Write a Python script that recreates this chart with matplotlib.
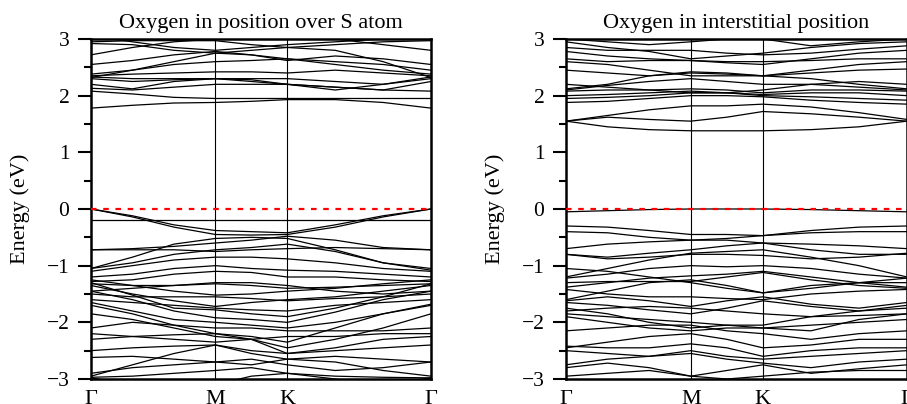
import numpy as np
import matplotlib.pyplot as plt
from matplotlib.ticker import MultipleLocator

plt.rcParams['font.family'] = ['Liberation Serif', 'DejaVu Serif']

#-------------------------------------------------
# k-path: G, 1/3 GM, 2/3 GM, M, 1/2 MK, K, 1/3 KG, 2/3 KG, G
#-------------------------------------------------
k_nodes = [0.0, 1/3, 2/3, 1.0, 1.2887, 1.5774, 1.9623, 2.3472, 2.7321]
k_ticks = [0.0, 1.0, 1.5774, 2.7321]
k_labels = ['Γ', 'M', 'K', 'Γ']

titles = ['Oxygen in position over S atom', 'Oxygen in interstitial position']

#-------------------------------------------------
# bands, left panel (O over S atom)
#-------------------------------------------------
bands_s = [
    [1.78, 1.83, 1.87, 1.88, 1.90, 1.93, 1.93, 1.88, 1.78],
    [2.08, 2.03, 1.97, 1.95, 1.95, 1.95, 1.95, 1.95, 1.95],
    [2.13, 2.10, 2.15, 2.20, 2.20, 2.20, 2.15, 2.10, 2.08],
    [2.20, 2.12, 2.25, 2.30, 2.25, 2.20, 2.15, 2.10, 2.25],
    [2.33, 2.30, 2.30, 2.30, 2.28, 2.20, 2.10, 2.20, 2.33],
    [2.35, 2.38, 2.40, 2.42, 2.42, 2.40, 2.45, 2.40, 2.35],
    [2.38, 2.45, 2.55, 2.60, 2.62, 2.65, 2.55, 2.45, 2.38],
    [2.55, 2.62, 2.72, 2.78, 2.72, 2.62, 2.70, 2.65, 2.55],
    [2.92, 2.90, 2.80, 2.75, 2.72, 2.65, 2.60, 2.55, 2.45],
    [2.95, 2.97, 2.97, 2.97, 2.90, 2.85, 2.90, 2.95, 2.97],
    [2.32, 2.45, 2.60, 2.75, 2.80, 2.85, 2.80, 2.60, 2.32],
    [2.30, 2.25, 2.28, 2.30, 2.30, 2.30, 2.25, 2.20, 2.30],
    [3.05, 2.95, 2.85, 2.80, 2.85, 2.90, 2.95, 3.00, 3.05],
    [2.72, 2.85, 2.95, 3.00, 3.05, 3.10, 3.00, 2.90, 2.80],
    [0.00, -0.12, -0.28, -0.38, -0.40, -0.42, -0.28, -0.12, 0.00],
    [0.00, -0.14, -0.32, -0.45, -0.46, -0.45, -0.32, -0.14, 0.00],
    [-0.19, -0.19, -0.19, -0.19, -0.19, -0.19, -0.19, -0.19, -0.19],
    [-0.72, -0.70, -0.66, -0.60, -0.55, -0.48, -0.55, -0.68, -0.72],
    [-0.72, -0.72, -0.72, -0.75, -0.72, -0.70, -0.68, -0.70, -0.72],
    [-1.05, -0.85, -0.62, -0.52, -0.50, -0.52, -0.72, -0.95, -1.05],
    [-1.05, -0.95, -0.80, -0.72, -0.68, -0.62, -0.75, -0.95, -1.08],
    [-1.10, -1.00, -0.90, -0.85, -0.85, -0.88, -0.95, -1.05, -1.10],
    [-1.20, -1.15, -1.05, -1.00, -1.05, -1.08, -1.10, -1.15, -1.20],
    [-1.28, -1.25, -1.15, -1.10, -1.12, -1.20, -1.20, -1.25, -1.28],
    [-1.32, -1.35, -1.35, -1.32, -1.35, -1.40, -1.38, -1.35, -1.32],
    [-1.35, -1.50, -1.62, -1.72, -1.65, -1.60, -1.55, -1.45, -1.35],
    [-1.30, -1.52, -1.75, -1.78, -1.85, -1.90, -1.75, -1.55, -1.32],
    [-1.45, -1.60, -1.80, -1.92, -1.95, -2.00, -1.82, -1.60, -1.45],
    [-1.50, -1.55, -1.55, -1.55, -1.58, -1.62, -1.58, -1.55, -1.50],
    [-1.60, -1.65, -1.70, -1.75, -1.78, -1.80, -1.70, -1.65, -1.60],
    [-1.65, -1.80, -1.95, -2.00, -2.05, -2.10, -2.00, -1.85, -1.68],
    [-1.70, -1.85, -2.05, -2.20, -2.25, -2.35, -2.10, -1.85, -1.70],
    [-1.85, -1.95, -2.10, -2.25, -2.30, -2.45, -2.30, -2.10, -1.85],
    [-2.10, -2.00, -2.05, -2.10, -2.10, -2.15, -2.15, -2.15, -2.10],
    [-2.20, -2.25, -2.30, -2.35, -2.30, -2.25, -2.25, -2.20, -2.20],
    [-2.30, -2.25, -2.22, -2.20, -2.30, -2.55, -2.45, -2.30, -2.25],
    [-2.50, -2.45, -2.42, -2.40, -2.50, -2.55, -2.50, -2.45, -2.40],
    [-2.62, -2.60, -2.65, -2.70, -2.75, -2.65, -2.60, -2.65, -2.70],
    [-2.95, -2.75, -2.55, -2.40, -2.55, -2.65, -2.70, -2.85, -2.95],
    [-2.90, -2.80, -2.75, -2.70, -2.65, -2.75, -2.85, -2.80, -2.70],
    [-2.97, -2.95, -2.90, -2.85, -2.80, -2.90, -2.95, -2.97, -2.98],
    [-2.98, -3.10, -3.20, -3.10, -2.95, -2.90, -3.00, -3.10, -2.98],
    [-1.25, -1.35, -1.45, -1.52, -1.50, -1.45, -1.40, -1.32, -1.25],
    [-1.45, -1.40, -1.35, -1.30, -1.30, -1.35, -1.45, -1.50, -1.45],
]

#-------------------------------------------------
# bands, right panel (O interstitial)
#-------------------------------------------------
bands_i = [
    [1.55, 1.45, 1.40, 1.38, 1.38, 1.38, 1.40, 1.45, 1.55],
    [1.55, 1.62, 1.58, 1.55, 1.62, 1.72, 1.68, 1.62, 1.55],
    [1.55, 1.65, 1.75, 1.82, 1.82, 1.85, 1.80, 1.70, 1.58],
    [1.88, 1.90, 1.95, 2.00, 2.00, 1.98, 1.92, 1.88, 1.85],
    [1.95, 1.97, 2.00, 2.05, 2.05, 2.00, 1.98, 1.95, 1.92],
    [2.00, 2.02, 2.05, 2.08, 2.05, 2.02, 2.05, 2.05, 2.00],
    [2.08, 2.10, 2.10, 2.12, 2.10, 2.05, 2.10, 2.10, 2.08],
    [2.10, 2.18, 2.25, 2.30, 2.25, 2.20, 2.20, 2.15, 2.10],
    [2.12, 2.20, 2.35, 2.40, 2.38, 2.35, 2.30, 2.20, 2.12],
    [2.45, 2.40, 2.35, 2.42, 2.40, 2.35, 2.40, 2.45, 2.47],
    [2.60, 2.55, 2.45, 2.35, 2.35, 2.35, 2.45, 2.55, 2.60],
    [2.65, 2.60, 2.62, 2.62, 2.60, 2.60, 2.62, 2.65, 2.65],
    [2.78, 2.70, 2.65, 2.62, 2.58, 2.55, 2.65, 2.75, 2.80],
    [2.85, 2.80, 2.80, 2.80, 2.75, 2.72, 2.75, 2.82, 2.88],
    [2.95, 2.85, 2.78, 2.65, 2.70, 2.75, 2.85, 2.92, 2.95],
    [3.00, 2.95, 2.90, 2.95, 3.00, 3.00, 2.88, 2.95, 3.00],
    [2.20, 2.15, 2.10, 2.05, 2.05, 2.10, 2.20, 2.25, 2.20],
    [-0.05, -0.03, -0.01, 0.00, 0.00, 0.00, -0.01, -0.03, -0.05],
    [-0.30, -0.32, -0.38, -0.45, -0.45, -0.47, -0.38, -0.32, -0.30],
    [-0.40, -0.42, -0.50, -0.55, -0.52, -0.47, -0.42, -0.40, -0.40],
    [-0.70, -0.62, -0.58, -0.55, -0.55, -0.60, -0.62, -0.65, -0.70],
    [-0.80, -0.85, -0.78, -0.72, -0.65, -0.60, -0.72, -0.80, -0.80],
    [-0.80, -0.88, -0.85, -0.80, -0.80, -0.82, -0.88, -0.85, -0.78],
    [-1.20, -1.05, -0.90, -0.78, -0.75, -0.72, -0.85, -1.00, -1.20],
    [-1.22, -1.15, -1.05, -1.00, -1.02, -1.00, -1.05, -1.15, -1.22],
    [-1.38, -1.30, -1.22, -1.18, -1.15, -1.10, -1.20, -1.30, -1.38],
    [-1.30, -1.28, -1.28, -1.28, -1.20, -1.12, -1.25, -1.35, -1.40],
    [-1.60, -1.45, -1.30, -1.25, -1.35, -1.48, -1.35, -1.30, -1.30],
    [-1.42, -1.50, -1.55, -1.55, -1.58, -1.60, -1.50, -1.45, -1.42],
    [-1.62, -1.55, -1.62, -1.72, -1.62, -1.55, -1.68, -1.75, -1.65],
    [-1.65, -1.70, -1.78, -1.85, -1.75, -1.62, -1.72, -1.80, -1.70],
    [-1.75, -1.85, -2.00, -2.10, -2.05, -2.05, -1.90, -1.80, -1.75],
    [-1.85, -1.90, -1.95, -2.00, -2.05, -2.10, -2.15, -1.95, -1.85],
    [-1.90, -2.00, -2.10, -2.15, -2.10, -2.10, -2.05, -2.00, -1.95],
    [-2.15, -2.10, -2.05, -2.05, -2.15, -2.20, -2.30, -2.20, -2.15],
    [-2.45, -2.35, -2.25, -2.20, -2.30, -2.45, -2.40, -2.30, -2.30],
    [-2.42, -2.45, -2.45, -2.38, -2.45, -2.60, -2.50, -2.45, -2.45],
    [-2.50, -2.55, -2.60, -2.50, -2.60, -2.65, -2.60, -2.55, -2.50],
    [-2.75, -2.65, -2.60, -2.55, -2.65, -2.72, -2.80, -2.70, -2.65],
    [-2.80, -2.72, -2.80, -2.95, -2.85, -2.75, -2.90, -2.82, -2.75],
    [-2.95, -2.90, -2.85, -2.95, -3.00, -2.95, -2.88, -2.85, -2.85],
    [-1.80, -1.75, -1.72, -1.75, -1.80, -1.85, -1.90, -1.88, -1.85],
    [-1.05, -1.10, -1.20, -1.30, -1.40, -1.48, -1.40, -1.30, -1.22],
]

#-------------------------------------------------
# Figure
#-------------------------------------------------
fig = plt.figure(figsize=(9.07, 4.04), dpi=100)
ax1 = fig.add_axes([0.1003, 0.0619, 0.3749, 0.8416])
ax2 = fig.add_axes([0.6240, 0.0619, 0.3760, 0.8416])

for ax, bands, title in zip([ax1, ax2], [bands_s, bands_i], titles):
    for b in bands:
        ax.plot(k_nodes, b, color='black', lw=0.9)
    for kt in k_ticks[1:-1]:
        ax.axvline(kt, color='black', lw=0.8)
    ax.axhline(0, color='red', lw=1.6, ls=(0, (2.5, 3)), zorder=5)

    ax.set_xlim(0, k_ticks[-1])
    ax.set_ylim(-3, 3)
    ax.set_xticks(k_ticks)
    ax.set_xticklabels(k_labels, fontsize=16)
    ax.tick_params(axis='x', length=0, pad=8)
    ax.yaxis.set_major_locator(MultipleLocator(1))
    ax.yaxis.set_minor_locator(MultipleLocator(0.5))
    ax.tick_params(axis='y', which='major', direction='out', length=9.5, width=1.5, labelsize=15.5, pad=6)
    ax.tick_params(axis='y', which='minor', direction='out', length=5, width=1.5)
    for sp in ax.spines.values():
        sp.set_linewidth(1.8)
    ax.set_ylabel('Energy (eV)', fontsize=16, labelpad=12)
    ax.set_title(title, fontsize=16, pad=8)

plt.savefig('out.png', dpi=100)
